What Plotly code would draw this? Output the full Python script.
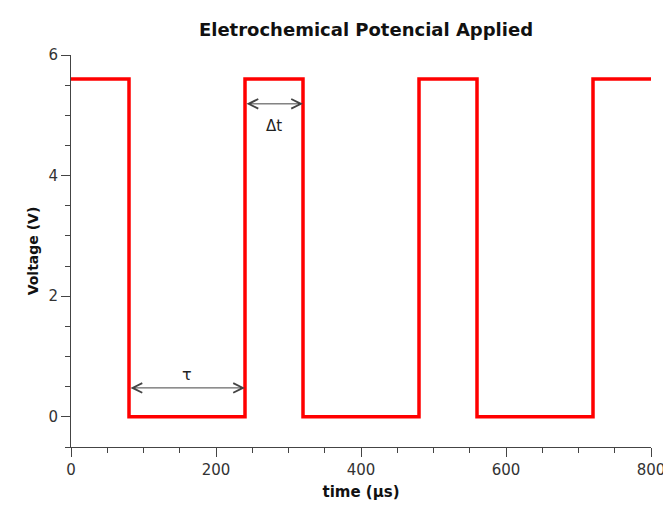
import plotly.graph_objects as go

# Square wave (step transitions)
time_us = [0, 80, 80, 240, 240, 320, 320, 480, 480, 560, 560, 720, 720, 800]
voltage = [5.6, 5.6, 0, 0, 5.6, 5.6, 0, 0, 5.6, 5.6, 0, 0, 5.6, 5.6]

# Annotation arrows: (start, end, y)
tau_span = [80, 240]
tau_y = 0.48
dt_span = [240, 320]
dt_y = 5.19

fig = go.Figure()
fig.add_trace(go.Scatter(x=time_us, y=voltage, mode="lines",
                         line=dict(color="#ff0000", width=3.5), hoverinfo="skip"))

font_fam = "DejaVu Sans, sans-serif"

for (x0, x1), yy in [(tau_span, tau_y), (dt_span, dt_y)]:
    fig.add_annotation(x=x1, y=yy, ax=x0, ay=yy, xref="x", yref="y", axref="x", ayref="y",
                       text="", showarrow=True, arrowside="end+start",
                       arrowhead=5, startarrowhead=5, arrowsize=1.9, startarrowsize=1.9,
                       arrowwidth=1, arrowcolor="#444")

fig.add_annotation(x=(tau_span[0] + tau_span[1]) / 2, y=tau_y, text="τ", showarrow=False,
                   yshift=13, font=dict(size=16, color="#222", family=font_fam))
fig.add_annotation(x=(dt_span[0] + dt_span[1]) / 2, y=dt_y, text="Δt", showarrow=False,
                   yshift=-22, font=dict(size=15, color="#222", family=font_fam))

W, H = 663, 498
fig.update_layout(
    width=W, height=H,
    paper_bgcolor="white", plot_bgcolor="white",
    margin=dict(l=63, r=20, t=47, b=59),
    showlegend=False,
    title=dict(text="<b>Eletrochemical Potencial Applied</b>", x=358 / W, xanchor="center",
               y=1 - 22 / H, yanchor="middle", yref="container",
               font=dict(size=18, color="#111", family=font_fam)),
    font=dict(family=font_fam, color="#333", size=15),
)
fig.update_xaxes(range=[0, 800], tickvals=[0, 200, 400, 600, 800], showgrid=False, zeroline=False,
                 showline=True, linecolor="#444", linewidth=1, automargin=False,
                 ticks="outside", ticklen=9, tickcolor="#444",
                 minor=dict(dtick=50, ticks="outside", ticklen=5, tickcolor="#444", showgrid=False),
                 title=dict(text="<b>time (μs)</b>", font=dict(size=15, color="#111"), standoff=8),
                 tickfont=dict(size=15, color="#333"))
fig.update_yaxes(range=[-0.5, 6], tickvals=[0, 2, 4, 6], showgrid=False, zeroline=False,
                 showline=True, linecolor="#444", linewidth=1, automargin=False,
                 ticks="outside", ticklen=9, tickcolor="#444",
                 minor=dict(dtick=0.5, ticks="outside", ticklen=5, tickcolor="#444", showgrid=False),
                 title=dict(text="<b>Voltage (V)</b>", font=dict(size=14, color="#111"), standoff=6),
                 tickfont=dict(size=15, color="#333"))

fig.write_html("out.html")
